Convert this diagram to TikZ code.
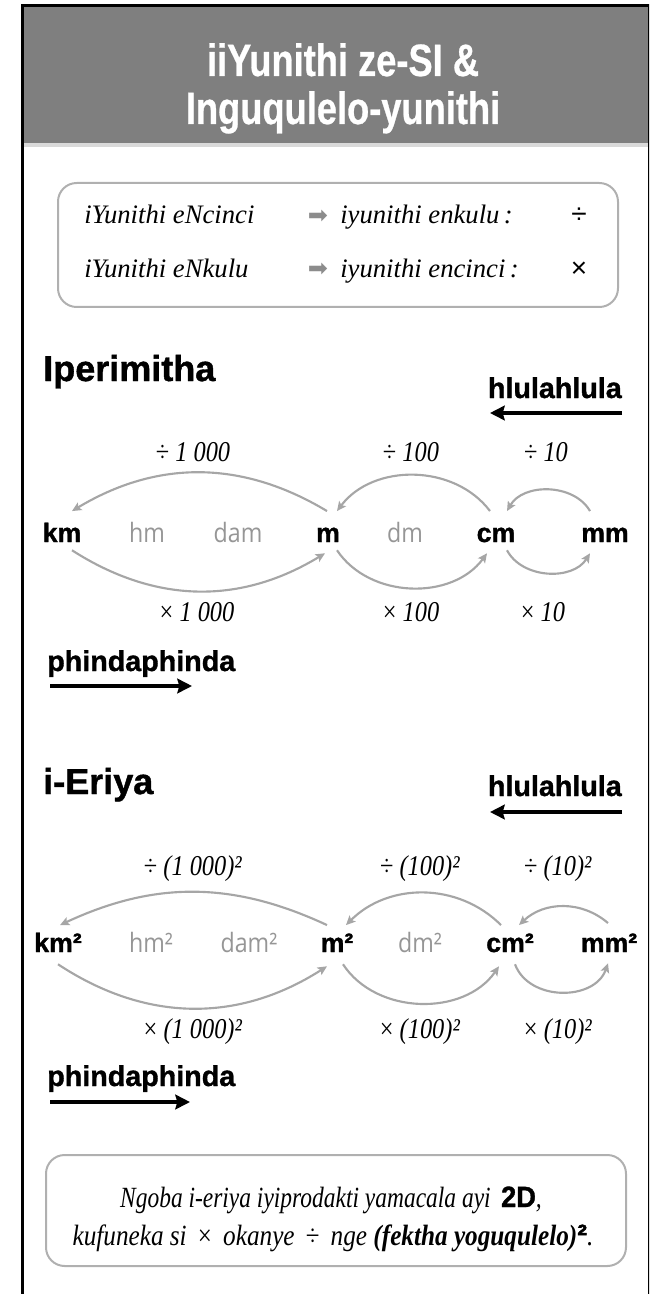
\documentclass[tikz,border=0pt]{standalone}
\usepackage{fontspec}
\usepackage{graphicx}
\setmainfont{Liberation Serif}[FakeStretch=0.86]
\newfontfamily\rulefont{Liberation Serif}
\newfontfamily\labelfont{Liberation Serif}[FakeStretch=0.85]
\newfontfamily\opfont{Liberation Sans}
\newfontfamily\headfont{Liberation Sans}[FakeStretch=0.8, BoldFeatures={FakeBold=0.6}]
\newfontfamily\boldsans{Liberation Sans}[BoldFeatures={FakeBold=1.2}]
\newfontfamily\lightsans{Open Sans}[FakeStretch=0.87]
\newfontfamily\glyphfont{DejaVu Sans}
\usetikzlibrary{arrows.meta}

\definecolor{hdrgray}{HTML}{7F7F7F}
\definecolor{stripgray}{HTML}{D9D9D9}
\definecolor{arcgray}{HTML}{A6A6A6}
\definecolor{unitgray}{HTML}{969696}
\definecolor{boxgray}{HTML}{B0B0B0}
\definecolor{markgray}{HTML}{8C8C8C}

\newcommand\fsz[1]{\fontsize{#1}{#1}\selectfont}

\tikzset{
  titletext/.style={text=white, font=\headfont\bfseries\fsz{34}, inner sep=0pt, anchor=base},
  ruletext/.style={font=\rulefont\itshape\fsz{20}, inner sep=0pt, anchor=base west},
  ruleop/.style={font=\opfont\fsz{21}, inner sep=0pt, anchor=base},
  rulearrow/.style={text=markgray, font=\glyphfont\fsz{18}, inner sep=0pt},
  section/.style={font=\boldsans\bfseries\fsz{27}, inner sep=0pt, anchor=base west},
  dirlabel/.style={font=\boldsans\bfseries\fsz{21.5}, inner sep=0pt},
  mainunit/.style={font=\boldsans\bfseries\fsz{20}, inner sep=0pt, anchor=base,
                   text height=14pt, text depth=0pt},
  subunit/.style={font=\lightsans\fsz{20}, text=unitgray, inner sep=0pt, anchor=base,
                  text height=14pt, text depth=0pt},
  factor/.style={font=\labelfont\fsz{21.5}, inner sep=0pt, anchor=base},
  conv/.style={draw=arcgray, line width=1.6pt,
               -{Stealth[length=7pt,width=6.5pt,inset=1.5pt,fill=arcgray]}},
  dirarrow/.style={line width=3pt, -{Stealth[length=11pt,width=11pt,inset=1.5pt]}},
  framebox/.style={draw=boxgray, line width=1.5pt, rounded corners=14pt},
  notetext/.style={font=\itshape\fsz{22}, inner sep=0pt, anchor=base},
}

\begin{document}
\begin{tikzpicture}[x=0.75pt,y=0.75pt]
\useasboundingbox (0,0) rectangle (649,-1294);

% page frame and header band
\begin{scope}
  \clip (0,0) rectangle (649,-1294);
  \fill[hdrgray] (22.5,-5.5) rectangle (649,-143);
  \fill[stripgray] (22.5,-143) rectangle (649,-147);
  \draw[line width=2.25pt] (22.5,-1300) -- (22.5,-5.5) -- (649.5,-5.5) -- (649.5,-1300);
\end{scope}

\node[titletext] (title1) at (343,-76) {iiYunithi ze-SI \&};
\node[titletext] (title2) at (343,-124) {Inguqulelo-yunithi};

% conversion rule box
\draw[framebox] (58,-183) rectangle (618,-307);
\node[ruletext] (r1a) at (84,-224) {iYunithi eNcinci};
\node[rulearrow] (r1b) at (318,-217) {➡};
\node[ruletext] (r1c) at (340,-224) {iyunithi enkulu\,:};
\node[ruleop] (r1d) at (579,-224) {÷};
\node[ruletext] (r2a) at (84,-277) {iYunithi eNkulu};
\node[rulearrow] (r2b) at (318,-270) {➡};
\node[ruletext] (r2c) at (340,-277) {iyunithi encinci\,:};
\node[ruleop] (r2d) at (579,-277) {×};

% ---------- length ----------
\node[section] (perim) at (43,-381) {Iperimitha};
\node[dirlabel, anchor=base east] (divP) at (622,-398) {hlulahlula};
\coordinate (divPs) at (622,-413);
\coordinate (divPe) at (490,-413);
\draw[dirarrow] (divPs) -- (divPe);

\node[factor] (dP1) at (193,-461) {÷ \textit{1 000}};
\node[factor] (dP2) at (411,-461) {÷ \textit{100}};
\node[factor] (dP3) at (546,-461) {÷ \textit{10}};

\node[mainunit] (km) at (62,-542) {km};
\node[subunit]  (hm) at (147,-542) {hm};
\node[subunit]  (dam) at (238,-542) {dam};
\node[mainunit] (m) at (328,-542) {m};
\node[subunit]  (dm) at (405,-542) {dm};
\node[mainunit] (cm) at (496,-542) {cm};
\node[mainunit] (mm) at (605,-542) {mm};

\draw[conv] ([shift={(-1,12)}]m.north) to[bend right=31] ([shift={(10,12)}]km.north);
\draw[conv] ([shift={(-6,12)}]cm.north) to[bend right=53] ([shift={(9,12)}]m.north);
\draw[conv] ([shift={(-15,12)}]mm.north) to[bend right=60] ([shift={(11,12)}]cm.north);
\draw[conv] ([shift={(10,-8)}]km.south) to[bend right=32] ([shift={(-3,-11)}]m.south);
\draw[conv] ([shift={(9,-8)}]m.south) to[bend right=55] ([shift={(-9,-11)}]cm.south);
\draw[conv] ([shift={(11,-8)}]cm.south) to[bend right=60] ([shift={(-15,-11)}]mm.south);

\node[factor] (mP1) at (197,-621) {× \textit{1 000}};
\node[factor] (mP2) at (411,-621) {× \textit{100}};
\node[factor] (mP3) at (543,-621) {× \textit{10}};

\node[dirlabel, anchor=base west] (mulP) at (47,-671) {phindaphinda};
\coordinate (mulPs) at (50,-686);
\coordinate (mulPe) at (192,-686);
\draw[dirarrow] (mulPs) -- (mulPe);

% ---------- area ----------
\node[section] (area) at (43,-794) {i-Eriya};
\node[dirlabel, anchor=base east] (divA) at (622,-796) {hlulahlula};
\coordinate (divAs) at (622,-812);
\coordinate (divAe) at (490,-812);
\draw[dirarrow] (divAs) -- (divAe);

\node[factor] (dA1) at (193,-875) {÷ \textit{(1 000)²}};
\node[factor] (dA2) at (420,-875) {÷ \textit{(100)²}};
\node[factor] (dA3) at (558,-875) {÷ \textit{(10)²}};

\node[mainunit] (km2) at (58,-952) {km²};
\node[subunit]  (hm2) at (151,-952) {hm²};
\node[subunit]  (dam2) at (249,-952) {dam²};
\node[mainunit] (m2) at (337,-952) {m²};
\node[subunit]  (dm2) at (420,-952) {dm²};
\node[mainunit] (cm2) at (510,-952) {cm²};
\node[mainunit] (mm2) at (609,-952) {mm²};

\draw[conv] ([shift={(-10,8)}]m2.north) to[bend right=25] ([shift={(2,8)}]km2.north);
\draw[conv] ([shift={(-9,8)}]cm2.north) to[bend right=45] ([shift={(9,8)}]m2.north);
\draw[conv] ([shift={(-1,10)}]mm2.north) to[bend right=42] ([shift={(9,8)}]cm2.north);
\draw[conv] ([shift={(0,-12)}]km2.south) to[bend right=33] ([shift={(-10,-14)}]m2.south);
\draw[conv] ([shift={(6,-12)}]m2.south) to[bend right=56] ([shift={(-11,-14)}]cm2.south);
\draw[conv] ([shift={(5,-12)}]cm2.south) to[bend right=70,looseness=1.1] ([shift={(-1,-11)}]mm2.south);

\node[factor] (mA1) at (193,-1038) {× \textit{(1 000)²}};
\node[factor] (mA2) at (420,-1038) {× \textit{(100)²}};
\node[factor] (mA3) at (558,-1038) {× \textit{(10)²}};

\node[dirlabel, anchor=base west] (mulA) at (47,-1086) {phindaphinda};
\coordinate (mulAs) at (50,-1102);
\coordinate (mulAe) at (190,-1102);
\draw[dirarrow] (mulAs) -- (mulAe);

% ---------- note ----------
\draw[framebox] (46,-1155) rectangle (626,-1266);
\node[notetext] (note1) at (331,-1207)
  {\scalebox{0.93}[1]{Ngoba i-eriya iyiprodakti yamacala ayi \,{\upshape\boldsans\bfseries 2D},}};
\node[notetext] (note2) at (333,-1245)
  {kufuneka si \,{\upshape\labelfont ×}\, okanye \,{\upshape\labelfont ÷}\, nge \textbf{(fektha yoguqulelo)}{\upshape\boldsans\bfseries ²}.};
\end{tikzpicture}
\end{document}
